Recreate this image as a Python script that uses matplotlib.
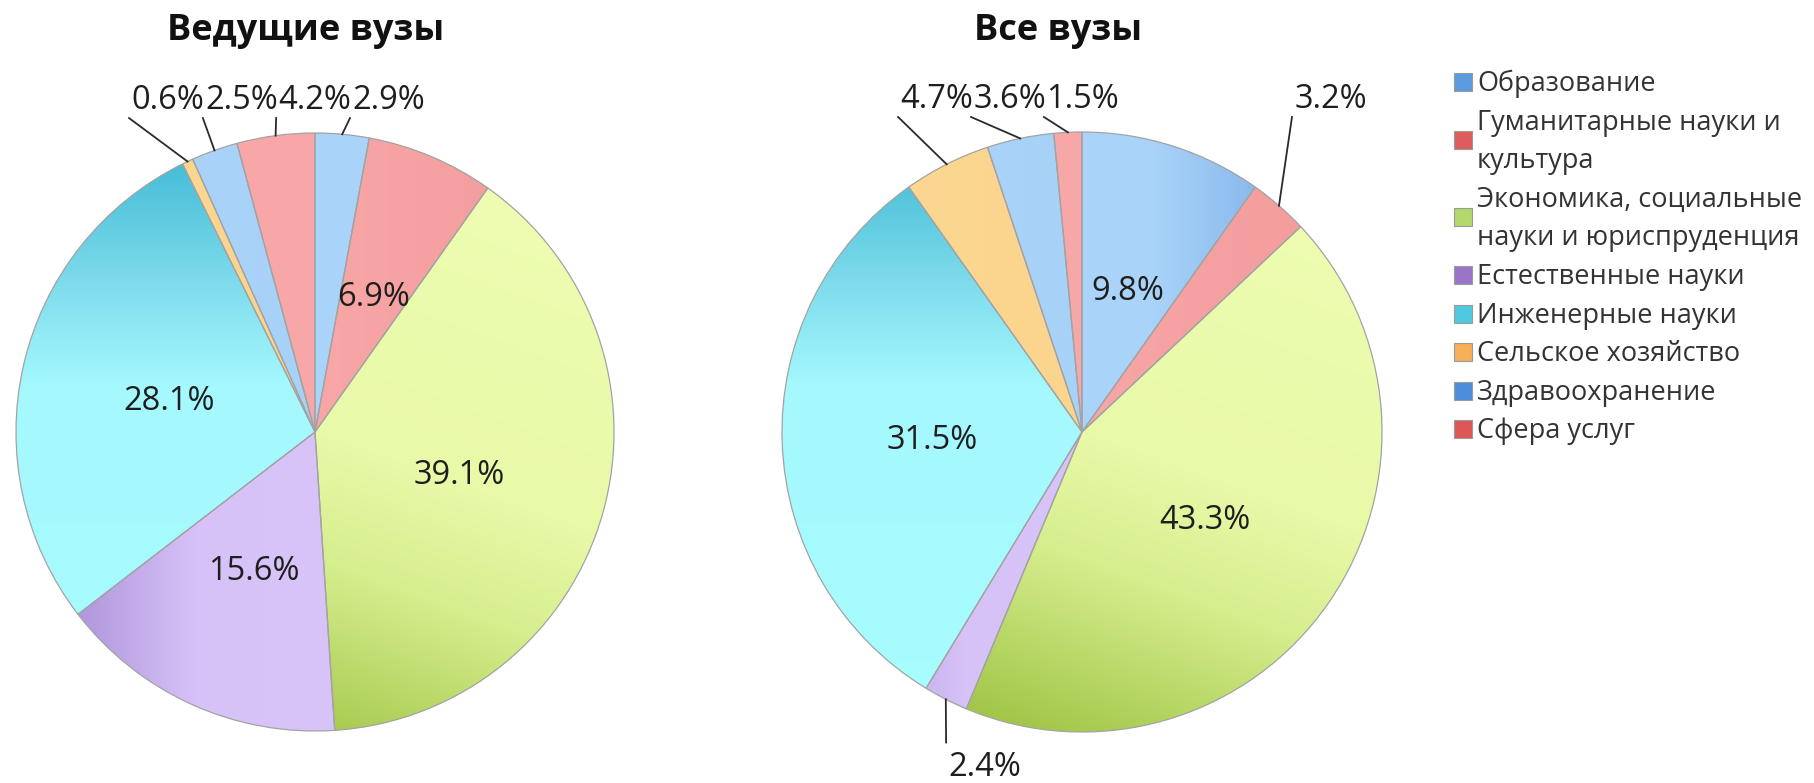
import matplotlib
matplotlib.use("Agg")
import matplotlib.pyplot as plt
import numpy as np
from matplotlib.colors import LinearSegmentedColormap
from matplotlib.patches import Rectangle

plt.rcParams["font.family"] = ["Open Sans", "DejaVu Sans"]

W, H = 1814, 783

categories = [
    "Образование",
    "Гуманитарные науки и культура",
    "Экономика, социальные науки и юриспруденция",
    "Естественные науки",
    "Инженерные науки",
    "Сельское хозяйство",
    "Здравоохранение",
    "Сфера услуг",
]
legend_lines = [
    ["Образование"],
    ["Гуманитарные науки и", "культура"],
    ["Экономика, социальные", "науки и юриспруденция"],
    ["Естественные науки"],
    ["Инженерные науки"],
    ["Сельское хозяйство"],
    ["Здравоохранение"],
    ["Сфера услуг"],
]
leading_share = [2.9, 6.9, 39.1, 15.6, 28.1, 0.6, 2.5, 4.2]
all_share = [9.8, 3.2, 43.3, 2.4, 31.5, 4.7, 3.6, 1.5]
titles = ["Ведущие вузы", "Все вузы"]

legend_colors = ["#5b9bdf", "#e05c5c", "#b5d86a", "#9a74c8",
                 "#4fc9e0", "#f7b055", "#4b8fdc", "#df5656"]

# gradient fill per category: direction (deg) and colour stops across the pie
fills = [
    (0, [(0, "#aed8fa"), (0.62, "#a9d3f8"), (0.8, "#88b8ec"), (1, "#80b0e8")]),
    (0, [(0, "#fbb0b0"), (0.5, "#f8a6a6"), (1, "#f29a9a")]),
    (-110, [(0, "#eefdb2"), (0.5, "#e8f9a8"), (0.7, "#d6ee8e"), (1, "#a2c648")]),
    (0, [(0, "#a88cd8"), (0.1, "#b096dc"), (0.3, "#d6c2f7"), (1, "#dbc8fa")]),
    (-90, [(0, "#40b8d4"), (0.07, "#4cc0da"), (0.25, "#7edcec"), (0.42, "#a4f8fe"), (1, "#a8fdff")]),
    (0, [(0, "#fdd993"), (1, "#f9d088")]),
    (0, [(0, "#aed6fa"), (1, "#a2ccf5")]),
    (0, [(0, "#f9aaaa"), (1, "#f6a4a4")]),
]

# pie centres / radii in pixels, outside label spots in pie units
pies = [
    dict(values=leading_share, cx=315, cy=432, r=299, title_x=306,
         outside={5: (-0.492, 1.08), 6: (-0.245, 1.08), 7: (0.0, 1.08), 0: (0.247, 1.08)}),
    dict(values=all_share, cx=1082, cy=432, r=300, title_x=1058,
         outside={5: (-0.483, 1.08), 6: (-0.24, 1.08), 7: (0.003, 1.08),
                  1: (0.83, 1.08), 3: (-0.323, -1.145)}),
]

LBL_SIZE = 23.5
LEG_SIZE = 19.5


def shade_wedges(ax, wedges, n=500):
    xs = np.linspace(-1, 1, n)
    X, Y = np.meshgrid(xs, xs)
    for w, (ang, stops) in zip(wedges, fills):
        a = np.deg2rad(ang)
        t = np.clip((X * np.cos(a) + Y * np.sin(a) + 1) / 2, 0, 1)
        cmap = LinearSegmentedColormap.from_list("fill", stops)
        im = ax.imshow(cmap(t), extent=(-1, 1, -1, 1), origin="lower",
                       interpolation="bilinear", zorder=1)
        im.set_clip_path(w)
        w.set_facecolor("none")
        w.set_zorder(2)


fig = plt.figure(figsize=(W / 100, H / 100), dpi=100)

for n, p in enumerate(pies):
    lim = 1.02
    half = p["r"] * lim
    ax = fig.add_axes([(p["cx"] - half) / W, 1 - (p["cy"] + half) / H,
                       2 * half / W, 2 * half / H])
    wedges, _ = ax.pie(p["values"], startangle=90, counterclock=False, radius=1,
                       wedgeprops=dict(edgecolor="#a3a3a3", linewidth=0.9))
    shade_wedges(ax, wedges)
    ax.set_xlim(-lim, lim)
    ax.set_ylim(-lim, lim)
    ax.set_aspect("equal")
    ax.axis("off")

    for i, w in enumerate(wedges):
        mid = np.deg2rad((w.theta1 + w.theta2) / 2)
        txt = f"{p['values'][i]:.1f}%"
        if i in p["outside"]:
            lx, ly = p["outside"][i]
            ax.text(lx, ly, txt, ha="center", va="baseline", fontsize=LBL_SIZE,
                    color="#1e1e1e")
            ey = 1.05 if ly > 0 else ly + 0.11
            ax.plot([np.cos(mid), lx - 0.13], [np.sin(mid), ey], color="#2a2a2a",
                    lw=1.3, clip_on=False, zorder=4)
        else:
            ax.text(0.5 * np.cos(mid), 0.5 * np.sin(mid) - 0.038, txt,
                    ha="center", va="baseline", fontsize=LBL_SIZE, color="#1e1e1e",
                    zorder=5)

    fig.text(p["title_x"] / W, 1 - 40 / H, titles[n], ha="center",
             va="baseline", fontsize=26, fontweight="bold", color="#111111")

# legend
line_y = 91.0
step = 38.6
for k, lines in enumerate(legend_lines):
    ys = [line_y + step * j for j in range(len(lines))]
    for txt, y in zip(lines, ys):
        fig.text(1477 / W, 1 - y / H, txt, ha="left", va="baseline",
                 fontsize=LEG_SIZE, color="#333333")
    yc = np.mean(ys) - 9
    fig.add_artist(Rectangle((1454 / W, 1 - (yc + 9) / H), 18 / W, 18 / H,
                             transform=fig.transFigure, facecolor=legend_colors[k],
                             edgecolor="#9a9a9a", linewidth=0.8))
    line_y = ys[-1] + step

fig.savefig("out.png", dpi=100)
